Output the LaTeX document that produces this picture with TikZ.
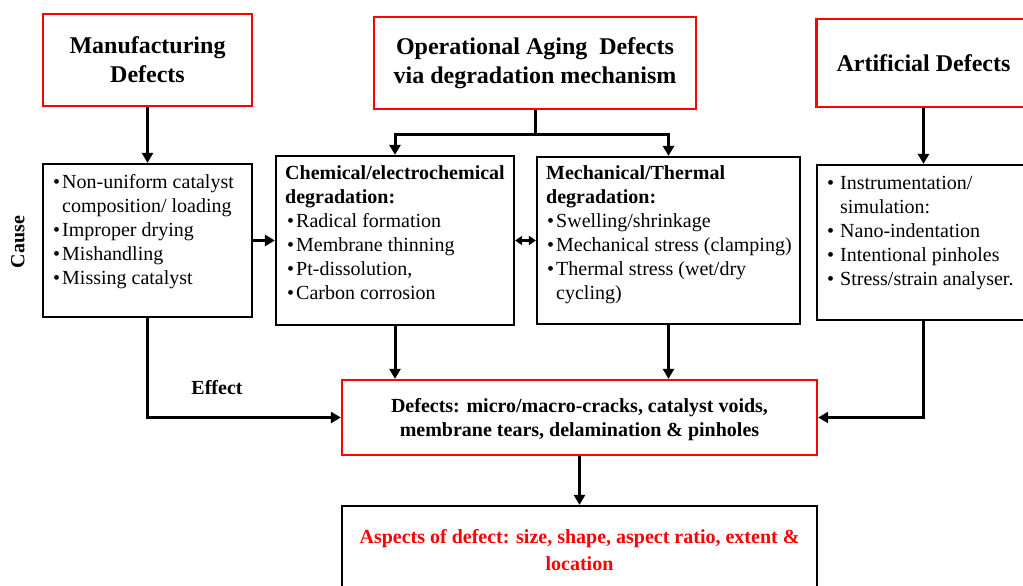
\documentclass[tikz,border=0pt]{standalone}
\usepackage{fontspec}
\setmainfont{Liberation Serif}
\usepackage{xcolor}
\usetikzlibrary{arrows.meta, positioning}

\newcommand{\bitem}{\textbullet\hspace{2pt}}
\newcommand{\bcont}{\phantom{\textbullet}\hspace{2pt}}

\begin{document}
\begin{tikzpicture}[
        x=1pt, y=-1pt,
        redbox/.style={draw=red, line width=2.3pt, align=center, inner sep=0pt, font=\fontsize{24}{29}\selectfont\bfseries},
        blackbox/.style={draw=black, line width=2.2pt, inner sep=0pt},
        listtext/.style={anchor=north west, inner sep=0pt, align=left, font=\fontsize{20}{24}\selectfont},
        boldtext/.style={font=\fontsize{20}{24}\selectfont\bfseries},
        arrow/.style={line width=3pt, -{Triangle[length=10pt, width=11pt]}}
    ]
    \useasboundingbox (0,0) rectangle (1023,586);
    \fill[white] (0,0) rectangle (1023,586);
    \clip (0,0) rectangle (1023,586);

    % Causes
    \node[redbox, minimum width=209pt, minimum height=92pt] (manuf) at (147.5,60) {Manufacturing\\Defects};
    \node[redbox, minimum width=322pt, minimum height=92pt] (oper) at (535,63) {Operational Aging\ \ Defects\\via degradation mechanism};
    \node[redbox, minimum width=214pt, minimum height=88pt] (artif) at (923.5,63) {Artificial Defects};

    % Lists
    \node[blackbox, minimum width=209pt, minimum height=153pt] (manuflist) at (147.5,240.5) {};
    \node[listtext] (manuftxt) at (53,174) {\bitem Non-uniform catalyst\\\bcont composition/ loading\\\bitem Improper drying\\\bitem Mishandling\\\bitem Missing catalyst};

    \node[blackbox, minimum width=238pt, minimum height=169pt] (chem) at (395,240.5) {};
    \node[listtext] (chemtxt) at (285,165) {\textbf{Chemical/electrochemical}\\\textbf{degradation:}\\\hspace{2pt}\bitem Radical formation\\\hspace{2pt}\bitem Membrane thinning\\\hspace{2pt}\bitem Pt-dissolution,\\\hspace{2pt}\bitem Carbon corrosion};

    \node[blackbox, minimum width=263pt, minimum height=167pt] (mech) at (668.5,240.5) {};
    \node[listtext] (mechtxt) at (546,165) {\textbf{Mechanical/Thermal}\\\textbf{degradation:}\\\hspace{1pt}\bitem Swelling/shrinkage\\\hspace{1pt}\bitem Mechanical stress (clamping)\\\hspace{1pt}\bitem Thermal stress (wet/dry\\\hspace{1pt}\bcont cycling)};

    \node[blackbox, minimum width=213pt, minimum height=155pt] (artlist) at (923.5,242.5) {};
    \node[listtext] (arttxt) at (827,176) {\textbullet\hspace{6pt}Instrumentation/\\\phantom{\textbullet}\hspace{6pt}simulation:\\\textbullet\hspace{6pt}Nano-indentation\\\textbullet\hspace{6pt}Intentional pinholes\\\textbullet\hspace{6pt}Stress/strain analyser.};

    % Effects
    \node[redbox, minimum width=475pt, minimum height=75pt, font=\fontsize{20}{24}\selectfont\bfseries, text depth=-3pt] (defects) at (579.5,417.5) {Defects: micro/macro-cracks, catalyst voids,\\membrane tears, delamination \& pinholes};
    \node[blackbox, minimum width=475pt, minimum height=89pt, align=center, text=red, font=\fontsize{20}{27}\selectfont\bfseries] (aspects) at (579.5,550.5) {Aspects of defect: size, shape, aspect ratio, extent \&\\location};

    \node[boldtext, rotate=90] (cause) at (18,242) {Cause};
    \node[boldtext] (effect) at (217,388) {Effect};

    % Connectors
    \draw[arrow] (manuf) -- (manuflist);
    \draw[line width=3pt] (oper.south) -- ++(0,24) coordinate (split);
    \draw[arrow] (split) -| (chem.north);
    \draw[arrow] (split) -| (mech.north);
    \draw[arrow] (artif.south) -- (artif.south |- artlist.north);
    \draw[arrow] (manuflist) -- (chem);
    \draw[line width=3pt, {Triangle[length=7pt, width=9pt]}-{Triangle[length=7pt, width=9pt]}] (chem) -- (mech);
    \draw[arrow, line width=3.5pt] (manuflist.south) |- (defects.west);
    \draw[arrow] (chem.south) -- (chem.south |- defects.north);
    \draw[arrow] (mech.south) -- (mech.south |- defects.north);
    \draw[arrow, line width=3.5pt] (artlist.south) |- (defects.east);
    \draw[arrow] (defects) -- (aspects);
\end{tikzpicture}
\end{document}
